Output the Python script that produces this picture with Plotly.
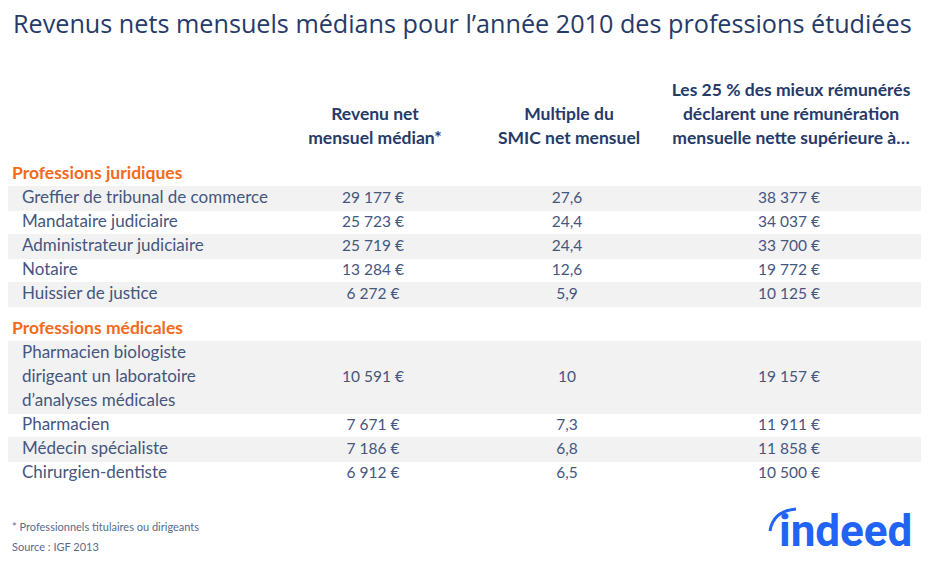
import plotly.graph_objects as go

# ---------------- data ----------------
title = "Revenus nets mensuels médians pour l’année 2010 des professions étudiées"
column_headers = [
    ["Revenu net", "mensuel médian*"],
    ["Multiple du", "SMIC net mensuel"],
    ["Les 25 % des mieux rémunérés", "déclarent une rémunération", "mensuelle nette supérieure à…"],
]
sections = ["Professions juridiques", "Professions médicales"]
professions = [
    ["Greffier de tribunal de commerce", "Mandataire judiciaire", "Administrateur judiciaire",
     "Notaire", "Huissier de justice"],
    ["Pharmacien biologiste\ndirigeant un laboratoire\nd’analyses médicales", "Pharmacien",
     "Médecin spécialiste", "Chirurgien-dentiste"],
]
revenu_median = [
    [29177, 25723, 25719, 13284, 6272],
    [10591, 7671, 7186, 6912],
]
multiple_smic = [
    [27.6, 24.4, 24.4, 12.6, 5.9],
    [10, 7.3, 6.8, 6.5],
]
quartile_sup = [
    [38377, 34037, 33700, 19772, 10125],
    [19157, 11911, 11858, 10500],
]
footnotes = ["* Professionnels titulaires ou dirigeants", "Source : IGF 2013"]

# ---------------- styles ----------------
W, H = 941, 567
OFF = 8  # default page body margin: axis units == screen pixels
NAVY = "#263a6a"
BODY = "#45567f"
ORANGE = "#f26a1b"
STRIPE = "#f2f2f2"
BLUE = "#2164f3"
FONT = "Lato"
col_x = [373, 567, 789]
label_x = 22
line_h = 24
top_start = 163
header_bottom = 140
section_gap = 11


def fmt_eur(v):
    return f"{v:,}".replace(",", " ") + " €"


def fmt_mult(v):
    return f"{v:g}".replace(".", ",")


fig = go.Figure()
shapes = []

label_txt, label_y = [], []
sec_txt, sec_y = [], []
cells = ([], [], [])
cell_y = []

cursor = top_start
for s_i, sec in enumerate(sections):
    sec_txt.append(sec)
    sec_y.append(cursor + line_h / 2)
    cursor += line_h
    for r_i, prof in enumerate(professions[s_i]):
        lines = prof.split("\n")
        top = cursor
        bottom = cursor + line_h * len(lines)
        if r_i % 2 == 0:
            shapes.append(dict(type="rect", xref="x", yref="y", x0=7, x1=921, y0=top - 1, y1=bottom,
                               fillcolor=STRIPE, line=dict(width=0), layer="below"))
        for l_i, ln in enumerate(lines):
            label_txt.append(ln)
            label_y.append(top + line_h * (l_i + 0.5))
        cell_y.append((top + bottom) / 2)
        cells[0].append(fmt_eur(revenu_median[s_i][r_i]))
        cells[1].append(fmt_mult(multiple_smic[s_i][r_i]))
        cells[2].append(fmt_eur(quartile_sup[s_i][r_i]))
        cursor = bottom
    cursor += section_gap

body_font = dict(family=FONT, size=17, color=BODY)
num_font = dict(family=FONT, size=15.5, color=BODY)

fig.add_trace(go.Scatter(x=[label_x] * len(label_txt), y=label_y, text=label_txt,
                         mode="text", textposition="middle right", textfont=body_font,
                         hoverinfo="skip", showlegend=False))
for c in range(3):
    fig.add_trace(go.Scatter(x=[col_x[c]] * len(cells[c]), y=cell_y, text=cells[c],
                             mode="text", textposition="middle center", textfont=num_font,
                             hoverinfo="skip", showlegend=False))

fig.add_trace(go.Scatter(x=[12] * len(sec_txt), y=sec_y, text=sec_txt,
                         mode="text", textposition="middle right",
                         textfont=dict(family=FONT, size=17.5, color=ORANGE, weight="bold"),
                         hoverinfo="skip", showlegend=False))

hx, hy, ht = [], [], []
for c, lines in enumerate(column_headers):
    n = len(lines)
    for i, ln in enumerate(lines):
        hx.append(col_x[c] + 2)
        hy.append(header_bottom - line_h * (n - 1 - i))
        ht.append(ln)
fig.add_trace(go.Scatter(x=hx, y=hy, text=ht, mode="text", textposition="middle center",
                         textfont=dict(family=FONT, size=17.5, color=NAVY, weight="bold"),
                         hoverinfo="skip", showlegend=False))

annotations = [
    dict(x=11, y=23, xref="x", yref="y", text=title, showarrow=False, xanchor="left",
         yanchor="middle", font=dict(family="Open Sans", size=25.2, color=NAVY)),
    dict(x=10, y=526, xref="x", yref="y", text=footnotes[0], showarrow=False, xanchor="left",
         yanchor="middle", font=dict(family=FONT, size=11, color="#5a6a90")),
    dict(x=10, y=546, xref="x", yref="y", text=footnotes[1], showarrow=False, xanchor="left",
         yanchor="middle", font=dict(family=FONT, size=11, color="#5a6a90")),
    dict(x=777, y=531, xref="x", yref="y", text="<b>indeed</b>", showarrow=False, xanchor="left",
         yanchor="middle", font=dict(family="Roboto", size=44, color=BLUE)),
]
shapes.append(dict(type="path", xref="x", yref="y", path="M 770 531 Q 773 511 796 509",
                   line=dict(color=BLUE, width=3)))

fig.update_layout(
    width=W - OFF, height=H - OFF, margin=dict(l=0, r=0, t=0, b=0),
    paper_bgcolor="white", plot_bgcolor="white",
    xaxis=dict(range=[OFF, W], visible=False, fixedrange=True),
    yaxis=dict(range=[H, OFF], visible=False, fixedrange=True),
    shapes=shapes, annotations=annotations,
)
fig.write_html("out.html")
